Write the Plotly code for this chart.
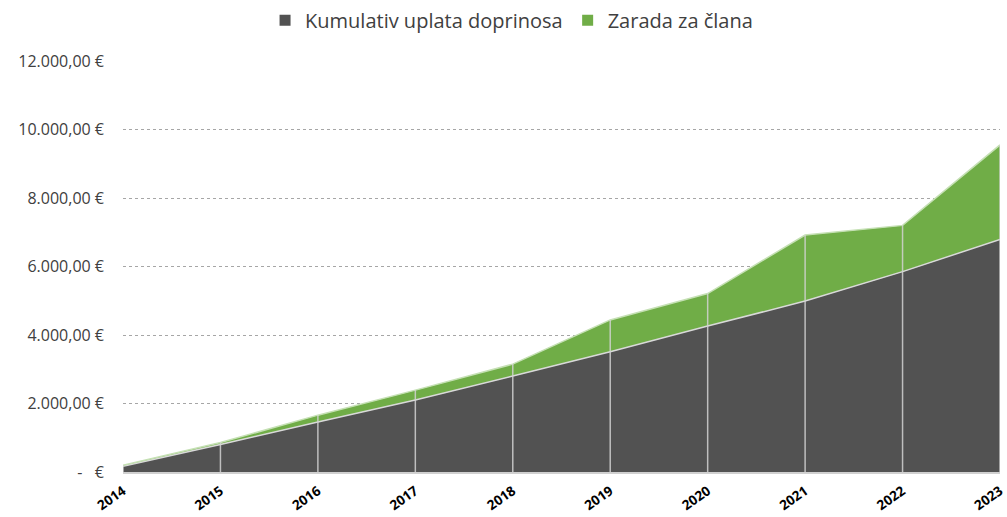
import plotly.graph_objects as go

years = [2014, 2015, 2016, 2017, 2018, 2019, 2020, 2021, 2022, 2023]
kumulativ = [170, 800, 1460, 2100, 2800, 3510, 4260, 4990, 5850, 6790]
zarada = [30, 60, 200, 290, 350, 930, 950, 1930, 1350, 2760]
y_ticks = [0, 2000, 4000, 6000, 8000, 10000, 12000]
y_ticktext = ["-   €", "2.000,00 €", "4.000,00 €", "6.000,00 €", "8.000,00 €", "10.000,00 €", "12.000,00 €"]

series_names = ["Kumulativ uplata doprinosa", "Zarada za člana"]
fill_colors = ["#525252", "#70ad47"]
edge_colors = ["#d9d9d9", "#c5e0b4"]

totals = [a + b for a, b in zip(kumulativ, zarada)]

fig = go.Figure()
for vals, name, fc, ec in zip([kumulativ, zarada], series_names, fill_colors, edge_colors):
    fig.add_trace(go.Scatter(
        x=years, y=vals, name=name, showlegend=False,
        mode="lines", stackgroup="one",
        line=dict(color=ec, width=1.5),
        fillcolor=fc,
    ))

# drop lines
dx, dy = [], []
for x, t in zip(years, totals):
    dx += [x, x, None]
    dy += [0, t, None]
fig.add_trace(go.Scatter(
    x=dx, y=dy, mode="lines", showlegend=False, hoverinfo="skip",
    line=dict(color="rgba(210,210,210,0.85)", width=1.5),
))

# legend entries with square swatches
for name, fc in zip(series_names, fill_colors):
    fig.add_trace(go.Scatter(
        x=[None], y=[None], mode="markers", name=name,
        marker=dict(symbol="square", size=11, color=fc),
    ))

fig.update_layout(
    width=1007, height=517,
    margin=dict(l=123, r=7, t=61, b=45),
    plot_bgcolor="white", paper_bgcolor="white",
    font=dict(family="Open Sans, Liberation Sans, sans-serif", color="#404040"),
    legend=dict(
        orientation="h", x=0.508, xanchor="center", y=0.961, yanchor="middle",
        yref="container", xref="container", font=dict(size=20, color="#404040"),
        traceorder="normal", itemwidth=30,
    ),
    showlegend=True,
)
fig.update_xaxes(
    range=[2014, 2023], tickmode="array", tickvals=years,
    ticktext=[str(y) for y in years], tickangle=-35,
    tickfont=dict(size=13.5, color="#000000", family="Open Sans, sans-serif", weight="bold"),
    showgrid=False, showline=True, linecolor="#d0d0d0", linewidth=2,
    ticks="", zeroline=False, ticklabeloverflow="allow", ticklabelstandoff=4,
    automargin=False,
)
fig.update_yaxes(
    range=[0, 12000], tickmode="array", tickvals=y_ticks, ticktext=y_ticktext,
    tickfont=dict(size=16, color="#404040"),
    showgrid=True, gridcolor="#a6a6a6", griddash="dot", gridwidth=1,
    zeroline=False, ticks="", ticklabelstandoff=18, automargin=False,
)

fig.write_html(
    "out.html",
    config={"displayModeBar": False},
    post_script="document.body.style.margin='0';document.body.style.overflow='hidden';",
)
